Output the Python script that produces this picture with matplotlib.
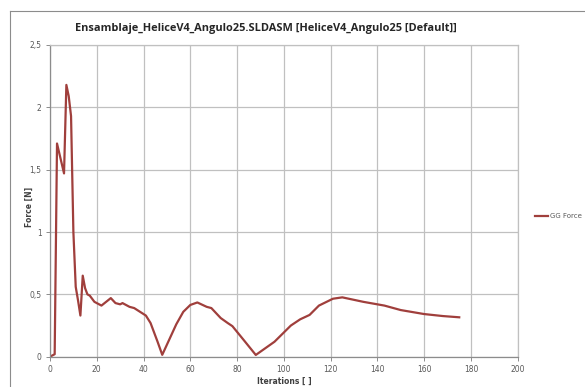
import matplotlib
matplotlib.use("Agg")
import matplotlib.pyplot as plt
from matplotlib.lines import Line2D
from matplotlib.ticker import FuncFormatter

# GG Force convergence history
iterations = [0, 1, 2, 3, 4, 6, 7, 8, 9, 10, 11, 12, 13, 14, 15, 16, 17, 19, 22,
              26, 28, 30, 31, 34, 36, 41, 43, 46, 48, 54, 57, 60, 63, 67, 69, 73,
              76, 78, 83, 88, 96, 103, 107, 111, 115, 121, 125, 134, 143, 150, 160,
              168, 175]
force = [0.0, 0.01, 0.02, 1.71, 1.63, 1.47, 2.18, 2.09, 1.93, 1.00, 0.56, 0.45,
         0.33, 0.65, 0.55, 0.50, 0.49, 0.44, 0.41, 0.47, 0.43, 0.42, 0.43, 0.40,
         0.39, 0.33, 0.27, 0.12, 0.015, 0.26, 0.36, 0.415, 0.435, 0.40, 0.39,
         0.31, 0.27, 0.245, 0.13, 0.014, 0.12, 0.25, 0.30, 0.335, 0.41, 0.465,
         0.476, 0.44, 0.41, 0.374, 0.342, 0.326, 0.316]

x_ticks = [0, 20, 40, 60, 80, 100, 120, 140, 160, 180, 200]
y_ticks = [0, 0.5, 1, 1.5, 2, 2.5]

title = "Ensamblaje_HeliceV4_Angulo25.SLDASM [HeliceV4_Angulo25 [Default]]"
series_name = "GG Force"

line_color = "#A03F3C"
grid_color = "#C0C0C0"
text_color = "#595959"

fig = plt.figure(figsize=(5.85, 3.87), dpi=100)
fig.patch.set_facecolor("white")

# chart frame (left and top edges)
fig.add_artist(Line2D([10 / 585, 10 / 585], [0, 1 - 11 / 387],
                      transform=fig.transFigure, color="#8C8C8C", lw=0.8))
fig.add_artist(Line2D([10 / 585, 1], [1 - 11 / 387, 1 - 11 / 387],
                      transform=fig.transFigure, color="#8C8C8C", lw=0.8))

ax = fig.add_axes([50 / 585, 30.3 / 387, 467.7 / 585, 311.7 / 387])
ax.plot(iterations, force, color=line_color, lw=1.6, solid_joinstyle="round")

ax.set_xlim(0, 200)
ax.set_ylim(0, 2.5)
ax.set_xticks(x_ticks)
ax.set_yticks(y_ticks)


def comma_fmt(v, pos):
    s = ("%g" % v)
    return s.replace(".", ",")


ax.yaxis.set_major_formatter(FuncFormatter(comma_fmt))
ax.grid(True, color=grid_color, lw=0.9)
ax.set_axisbelow(True)
for side in ("top", "right"):
    ax.spines[side].set_color(grid_color)
    ax.spines[side].set_linewidth(0.9)
for side in ("left", "bottom"):
    ax.spines[side].set_color("#8C8C8C")
    ax.spines[side].set_linewidth(0.9)
ax.tick_params(axis="both", length=3, width=0.7, color="#8C8C8C",
               labelsize=5.5, labelcolor=text_color, pad=3)

ax.set_xlabel("Iterations [ ]", fontsize=5.5, fontweight="bold", color="#404040",
              labelpad=3)
ax.xaxis.set_label_coords(0.50, -0.065)
ax.set_ylabel("Force [N]", fontsize=5.5, fontweight="bold", color="#404040")
ax.yaxis.set_label_coords(-0.034, 0.48)

fig.text(266 / 585, 1 - 28 / 387, title, ha="center", va="center",
         fontsize=7.9, fontweight="bold", color="#262626", family="Open Sans")

# legend
fig.add_artist(Line2D([535 / 585, 548 / 585], [1 - 216 / 387, 1 - 216 / 387],
                      transform=fig.transFigure, color=line_color, lw=1.6))
fig.text(550 / 585, 1 - 216 / 387, series_name, ha="left", va="center",
         fontsize=5, color=text_color)

fig.savefig("out.png", dpi=100)
